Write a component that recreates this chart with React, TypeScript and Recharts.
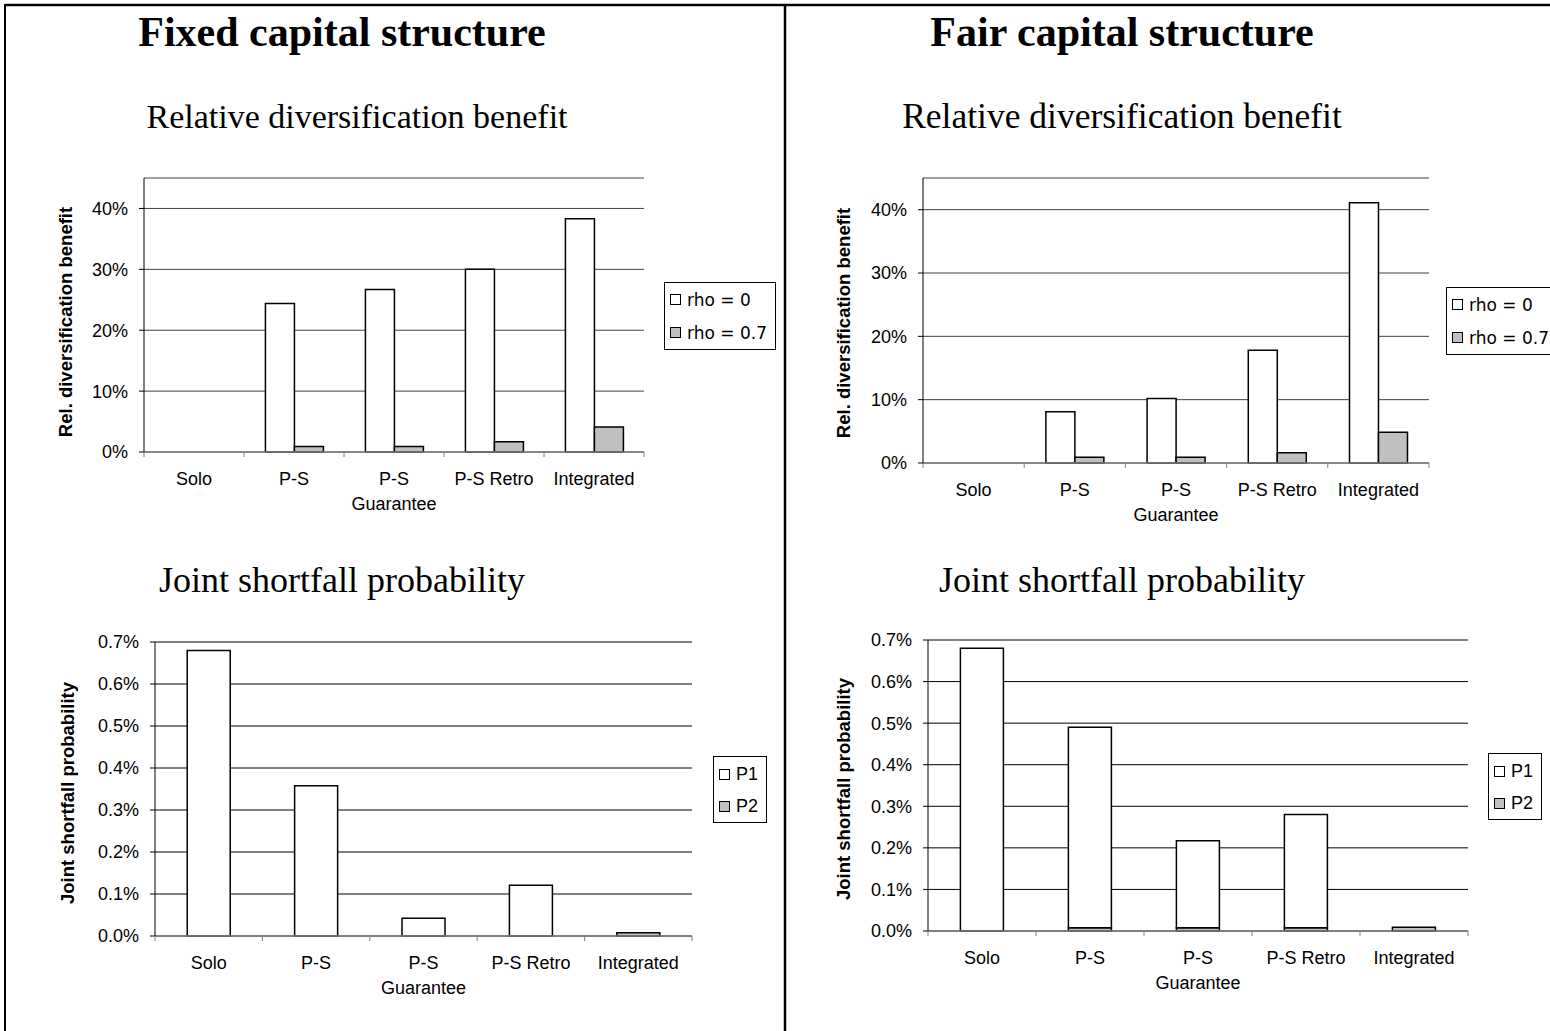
import React from "react";
import { BarChart, Bar, XAxis, YAxis, CartesianGrid, Legend } from "recharts";

// ---- data -----------------------------------------------------------------

const categories = ["Solo", "P-S", "P-S\nGuarantee", "P-S Retro", "Integrated"];

// relative diversification benefit, in percent
const fixedRho0 = [0, 24.4, 26.7, 30.0, 38.3];
const fixedRho07 = [0, 0.9, 0.9, 1.7, 4.1];
const fairRho0 = [0, 8.1, 10.2, 17.8, 41.1];
const fairRho07 = [0, 0.9, 0.9, 1.6, 4.85];

// joint shortfall probability, in percent (P2 sits at the bottom of the stack)
const fixedP1 = [0.68, 0.358, 0.042, 0.121, 0];
const fixedP2 = [0, 0, 0, 0, 0.008];
const fairP1 = [0.68, 0.482, 0.209, 0.272, 0];
const fairP2 = [0, 0.008, 0.008, 0.008, 0.009];

const benefitTicks = [0, 10, 20, 30, 40];
const shortfallTicks = [0, 0.1, 0.2, 0.3, 0.4, 0.5, 0.6, 0.7];

const WHITE = "#ffffff";
const GREY = "#c0c0c0";

const SANS = '"Liberation Sans", Arial, sans-serif';
const SERIF = '"Liberation Serif", "Times New Roman", serif';

// ---- pieces ---------------------------------------------------------------

type Series = { name: string; values: number[]; fill: string };

function CategoryTick(props: any) {
  const { x, y, payload, index, band, last } = props;
  const lines = String(payload.value).split("\n");
  return (
    <g>
      <line x1={x - band / 2} x2={x - band / 2} y1={y} y2={y + 5} stroke="#808080" />
      {index === last && (
        <line x1={x + band / 2} x2={x + band / 2} y1={y} y2={y + 5} stroke="#808080" />
      )}
      <text x={x} y={y + 33} textAnchor="middle" fontFamily={SANS} fontSize={18} fill="#000">
        {lines.map((l, k) => (
          <tspan key={k} x={x} dy={k === 0 ? 0 : 25}>
            {l}
          </tspan>
        ))}
      </text>
    </g>
  );
}

function LegendBox(props: any) {
  const { payload, series, font, size, row, padTop, marker } = props;
  const items = [...(payload ?? [])].sort((a: any, b: any) =>
    String(a.value).localeCompare(String(b.value))
  );
  return (
    <div
      style={{
        border: "1px solid #000",
        background: "#fff",
        padding: `${padTop}px 8px 0 5px`,
        height: row * items.length,
        fontFamily: font,
        fontSize: size,
        color: "#000",
        whiteSpace: "nowrap",
      }}
    >
      {items.map((it: any) => {
        const s = (series as Series[]).find((q) => q.name === it.value);
        return (
          <div key={it.value} style={{ display: "flex", alignItems: "center", height: row }}>
            <span
              style={{
                display: "inline-block",
                width: marker,
                height: marker,
                border: "1px solid #000",
                background: s ? s.fill : it.color,
                marginRight: 6,
                boxSizing: "border-box",
              }}
            />
            <span>{it.value}</span>
          </div>
        );
      })}
    </div>
  );
}

interface PanelProps {
  left: number;
  top: number;
  width: number;
  height: number;
  margin: { top: number; right: number; bottom: number; left: number };
  series: Series[];
  stacked?: boolean;
  yMax: number;
  yTicks: number[];
  yFormat: (v: number) => string;
  gridStroke: string;
  legend: { left: number; top: number; font: string; size: number; row: number; padTop: number; marker: number };
}

const Y_AXIS_W = 60;
const X_AXIS_H = 60;

function Panel(p: PanelProps) {
  const data = categories.map((name, i) => {
    const row: Record<string, number | string> = { name };
    p.series.forEach((s, j) => (row[`v${j}`] = s.values[i]));
    return row;
  });
  const plotW = p.width - p.margin.left - p.margin.right - Y_AXIS_W;
  const band = plotW / categories.length;

  return (
    <div style={{ position: "absolute", left: p.left, top: p.top }}>
      <BarChart
        width={p.width}
        height={p.height}
        data={data}
        margin={p.margin}
        barGap={0}
        barCategoryGap={p.stacked ? "30%" : "21.43%"}
      >
        <CartesianGrid vertical={false} stroke={p.gridStroke} />
        <XAxis
          dataKey="name"
          interval={0}
          height={X_AXIS_H}
          tickSize={0}
          tickMargin={0}
          tickLine={false}
          axisLine={{ stroke: "#808080", strokeWidth: 1.5 }}
          tick={(tp: any) => <CategoryTick {...tp} band={band} last={categories.length - 1} />}
        />
        <YAxis
          type="number"
          width={Y_AXIS_W}
          domain={[0, p.yMax]}
          ticks={p.yTicks}
          interval={0}
          tickFormatter={p.yFormat}
          tickSize={5}
          tickMargin={11}
          axisLine={{ stroke: "#000" }}
          tickLine={{ stroke: "#000" }}
          tick={{ fontSize: 18, fill: "#000", fontFamily: SANS }}
        />
        <Legend
          layout="vertical"
          align="center"
          verticalAlign="middle"
          wrapperStyle={{ left: p.legend.left, top: p.legend.top, width: "auto", height: "auto" }}
          content={(lp: any) => (
            <LegendBox
              {...lp}
              series={p.series}
              font={p.legend.font}
              size={p.legend.size}
              row={p.legend.row}
              padTop={p.legend.padTop}
              marker={p.legend.marker}
            />
          )}
        />
        {(p.stacked ? [...p.series].reverse() : p.series).map((s) => {
          const j = p.series.indexOf(s);
          return (
            <Bar
              key={s.name}
              dataKey={`v${j}`}
              name={s.name}
              fill={s.fill}
              stroke="#000"
              strokeWidth={1.5}
              stackId={p.stacked ? "a" : undefined}
              isAnimationActive={false}
            />
          );
        })}
      </BarChart>
    </div>
  );
}

const pct0 = (v: number) => `${v}%`;
const pct1 = (v: number) => `${v.toFixed(1)}%`;

// ---- page -----------------------------------------------------------------

export default function App() {
  const rhoLegend = { font: '"DejaVu Sans", sans-serif', size: 17, row: 33, padTop: 0, marker: 11 };
  const pLegend = { font: SANS, size: 18, row: 32, padTop: 1, marker: 11 };

  return (
    <div
      style={{
        position: "absolute",
        left: 0,
        top: 0,
        width: 1550,
        height: 1031,
        overflow: "hidden",
        background: "#fff",
      }}
    >
      <svg width={1550} height={1031} style={{ position: "absolute", left: 0, top: 0 }}>
        {/* frame */}
        <line x1={5} x2={1550} y1={5} y2={5} stroke="#000" strokeWidth={2.5} />
        <line x1={5} x2={5} y1={4} y2={1031} stroke="#000" strokeWidth={2} />
        <line x1={785} x2={785} y1={4} y2={1031} stroke="#000" strokeWidth={2.5} />

        {/* headings */}
        <g fontFamily={SERIF} fill="#000" textAnchor="middle">
          <text x={342} y={46} fontSize={42} fontWeight="bold">Fixed capital structure</text>
          <text x={1122} y={46} fontSize={42} fontWeight="bold">Fair capital structure</text>
          <text x={357} y={128} fontSize={34}>Relative diversification benefit</text>
          <text x={1122} y={128} fontSize={35.5}>Relative diversification benefit</text>
          <text x={342} y={592} fontSize={36}>Joint shortfall probability</text>
          <text x={1122} y={592} fontSize={36}>Joint shortfall probability</text>
        </g>

        {/* y-axis titles */}
        <g fontFamily={SANS} fontWeight="bold" fontSize={18.5} fill="#000" textAnchor="middle">
          <text transform="translate(72,322) rotate(-90)">Rel. diversification benefit</text>
          <text transform="translate(850,323) rotate(-90)">Rel. diversification benefit</text>
          <text transform="translate(74,793) rotate(-90)">Joint shortfall probability</text>
          <text transform="translate(850,789) rotate(-90)">Joint shortfall probability</text>
        </g>
      </svg>

      <Panel
        left={0}
        top={150}
        width={785}
        height={380}
        margin={{ top: 28, right: 141, bottom: 18, left: 144 - Y_AXIS_W }}
        series={[
          { name: "rho = 0", values: fixedRho0, fill: WHITE },
          { name: "rho = 0.7", values: fixedRho07, fill: GREY },
        ]}
        yMax={45}
        yTicks={benefitTicks}
        yFormat={pct0}
        gridStroke="#404040"
        legend={{ left: 664, top: 132, ...rhoLegend }}
      />

      <Panel
        left={785}
        top={150}
        width={765}
        height={380}
        margin={{ top: 28, right: 121, bottom: 7, left: 138 - Y_AXIS_W }}
        series={[
          { name: "rho = 0", values: fairRho0, fill: WHITE },
          { name: "rho = 0.7", values: fairRho07, fill: GREY },
        ]}
        yMax={45}
        yTicks={benefitTicks}
        yFormat={pct0}
        gridStroke="#404040"
        legend={{ left: 661, top: 137, ...rhoLegend }}
      />

      <Panel
        left={0}
        top={620}
        width={785}
        height={400}
        margin={{ top: 22, right: 93, bottom: 24, left: 155 - Y_AXIS_W }}
        series={[
          { name: "P1", values: fixedP1, fill: WHITE },
          { name: "P2", values: fixedP2, fill: GREY },
        ]}
        stacked
        yMax={0.7}
        yTicks={shortfallTicks}
        yFormat={pct1}
        gridStroke="#000"
        legend={{ left: 713, top: 136, ...pLegend }}
      />

      <Panel
        left={785}
        top={620}
        width={765}
        height={400}
        margin={{ top: 20, right: 82, bottom: 29, left: 143 - Y_AXIS_W }}
        series={[
          { name: "P1", values: fairP1, fill: WHITE },
          { name: "P2", values: fairP2, fill: GREY },
        ]}
        stacked
        yMax={0.7}
        yTicks={shortfallTicks}
        yFormat={pct1}
        gridStroke="#000"
        legend={{ left: 703, top: 133, ...pLegend }}
      />
    </div>
  );
}
